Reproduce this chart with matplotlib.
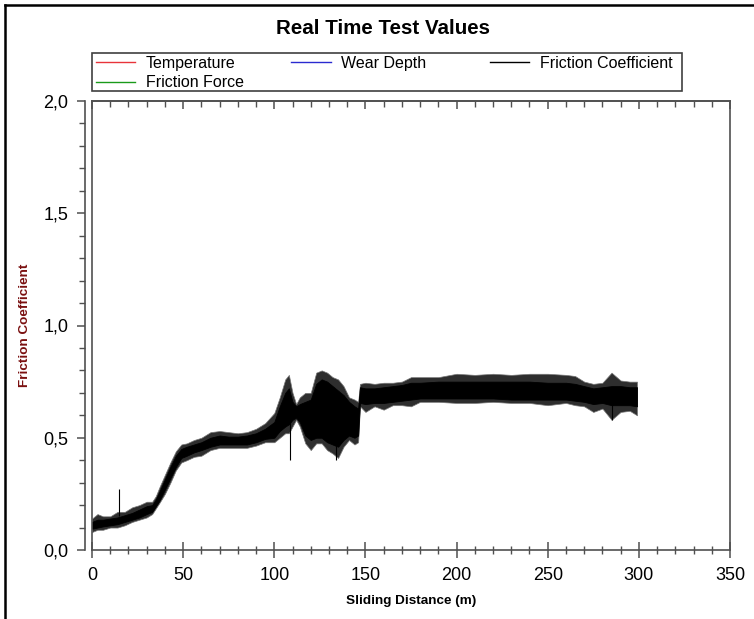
import matplotlib
matplotlib.use('Agg')
from matplotlib import pyplot as plt
from matplotlib.lines import Line2D
from matplotlib.patches import Rectangle
from matplotlib.ticker import MultipleLocator, FuncFormatter
import numpy as np

plt.rcParams['font.family'] = ['Liberation Sans', 'DejaVu Sans']

# sliding distance (m) and read-off envelope of the friction coefficient band
dist = [0, 3, 6, 10, 14, 18, 22, 26, 30, 33, 35, 37, 40, 43, 46, 49, 52, 56, 60, 65,
        70, 75, 80, 85, 90, 95, 100, 103, 106, 108, 110, 112, 114, 117, 120, 123, 126,
        129, 132, 135, 138, 141, 144, 146, 147, 150, 155, 160, 165, 170, 175, 180, 190,
        200, 210, 220, 230, 240, 250, 260, 265, 270, 275, 280, 285, 290, 295, 299]
# outer spikes
cof_lo = [0.08, 0.09, 0.09, 0.10, 0.10, 0.11, 0.125, 0.135, 0.145, 0.16, 0.185, 0.21,
          0.25, 0.30, 0.355, 0.39, 0.40, 0.415, 0.42, 0.445, 0.455, 0.455, 0.455, 0.455,
          0.465, 0.48, 0.48, 0.50, 0.52, 0.52, 0.55, 0.58, 0.55, 0.475, 0.445, 0.475,
          0.475, 0.445, 0.43, 0.41, 0.46, 0.49, 0.47, 0.48, 0.64, 0.615, 0.64, 0.625,
          0.645, 0.645, 0.64, 0.66, 0.66, 0.655, 0.655, 0.66, 0.655, 0.655, 0.645, 0.655,
          0.645, 0.64, 0.615, 0.63, 0.58, 0.615, 0.62, 0.60]
cof_hi = [0.14, 0.16, 0.15, 0.15, 0.17, 0.17, 0.19, 0.20, 0.215, 0.215, 0.24, 0.28,
          0.335, 0.39, 0.44, 0.47, 0.475, 0.49, 0.50, 0.525, 0.53, 0.525, 0.52, 0.525,
          0.54, 0.565, 0.61, 0.68, 0.76, 0.78, 0.70, 0.65, 0.68, 0.70, 0.70, 0.79, 0.80,
          0.79, 0.77, 0.76, 0.73, 0.68, 0.67, 0.66, 0.74, 0.745, 0.74, 0.745, 0.745, 0.75,
          0.77, 0.77, 0.77, 0.785, 0.78, 0.785, 0.78, 0.785, 0.785, 0.78, 0.775, 0.75,
          0.74, 0.745, 0.79, 0.755, 0.75, 0.75]
# dense core
core_lo = [0.095, 0.10, 0.105, 0.11, 0.115, 0.125, 0.135, 0.145, 0.16, 0.17, 0.195, 0.22,
           0.27, 0.32, 0.37, 0.41, 0.42, 0.435, 0.445, 0.46, 0.47, 0.47, 0.47, 0.47, 0.48,
           0.495, 0.50, 0.53, 0.55, 0.56, 0.58, 0.59, 0.57, 0.51, 0.49, 0.50, 0.50, 0.48,
           0.47, 0.46, 0.49, 0.51, 0.50, 0.51, 0.655, 0.65, 0.655, 0.655, 0.66, 0.665,
           0.67, 0.675, 0.675, 0.675, 0.675, 0.675, 0.67, 0.67, 0.67, 0.67, 0.665, 0.66,
           0.65, 0.655, 0.645, 0.645, 0.645, 0.64]
core_hi = [0.125, 0.135, 0.135, 0.14, 0.145, 0.155, 0.165, 0.18, 0.195, 0.20, 0.225, 0.26,
           0.315, 0.37, 0.42, 0.45, 0.46, 0.47, 0.48, 0.50, 0.51, 0.505, 0.505, 0.51, 0.52,
           0.54, 0.57, 0.64, 0.70, 0.72, 0.66, 0.64, 0.65, 0.66, 0.67, 0.74, 0.76, 0.75,
           0.73, 0.71, 0.69, 0.66, 0.64, 0.63, 0.725, 0.72, 0.72, 0.725, 0.73, 0.735,
           0.745, 0.745, 0.75, 0.75, 0.75, 0.75, 0.75, 0.75, 0.745, 0.745, 0.74, 0.73,
           0.72, 0.725, 0.73, 0.73, 0.725, 0.725]
# single isolated spikes
spike_d = [15, 108.5, 134, 285]
spike_lo = [0.15, 0.40, 0.40, 0.58]
spike_hi = [0.27, 0.62, 0.60, 0.70]

legend_names = ['Temperature', 'Friction Force', 'Wear Depth', 'Friction Coefficient']
legend_colors = ['#e8333a', '#1a9a1a', '#2a2ad0', '#000000']

fig = plt.figure(figsize=(7.54, 6.19), dpi=100)
ax = fig.add_axes([92/754, 1-550/619, (730-92)/754, (550-101)/619])

ax.fill_between(dist, cof_lo, cof_hi, color='#2e2e2e', linewidth=0.5, edgecolor='#777777')
ax.fill_between(dist, core_lo, core_hi, color='black', linewidth=0.6)
ax.vlines(spike_d, spike_lo, spike_hi, color='black', linewidth=0.8)

ax.set_xlim(0, 350)
ax.set_ylim(0, 2.0)
ax.xaxis.set_major_locator(MultipleLocator(50))
ax.xaxis.set_minor_locator(MultipleLocator(10))
ax.yaxis.set_major_locator(MultipleLocator(0.5))
ax.yaxis.set_minor_locator(MultipleLocator(0.1))
ax.yaxis.set_major_formatter(FuncFormatter(lambda v, p: ('%.1f' % v).replace('.', ',')))

spine_c = '#505050'
for s in ax.spines.values():
    s.set_color(spine_c)
    s.set_linewidth(1.2)
ax.spines['left'].set_position(('outward', 5))
# inner frame line on the left side
ax.add_line(Line2D([0, 0], [0, 1], transform=ax.transAxes, color=spine_c,
                   linewidth=1.2, clip_on=False))

ax.tick_params(axis='x', which='major', direction='inout', length=12, width=1.1,
               color=spine_c, labelsize=13, pad=6)
ax.tick_params(axis='x', which='minor', direction='inout', length=6, width=1.0, color=spine_c)
ax.tick_params(axis='y', which='major', direction='out', length=6, width=1.1,
               color=spine_c, labelsize=13, pad=6)
ax.tick_params(axis='y', which='minor', direction='out', length=4, width=1.0, color=spine_c)

top = ax.secondary_xaxis('top')
top.xaxis.set_major_locator(MultipleLocator(50))
top.xaxis.set_minor_locator(MultipleLocator(10))
top.tick_params(which='major', direction='in', length=6, width=1.1, color=spine_c, labeltop=False)
top.tick_params(which='minor', direction='in', length=4, width=1.0, color=spine_c)
top.spines['top'].set_color(spine_c)
top.spines['top'].set_linewidth(1.2)

ax.set_xlabel('Sliding Distance (m)', fontsize=9.7, fontweight='bold', labelpad=8)
fig.text(25/754, 1-325/619, 'Friction Coefficient', rotation=90, fontsize=9.7,
         fontweight='bold', color='#7a1010', ha='center', va='center')

fig.text(383/754, 1-28/619, 'Real Time Test Values', fontsize=14.8, fontweight='bold',
         ha='center', va='center')

# legend: first two columns, then the third column placed on its own
handles = [Line2D([], [], color=c, linewidth=1.0) for c in legend_colors]
leg_kw = dict(borderaxespad=0, borderpad=0, frameon=False, fontsize=11.5,
              handlelength=2.45, handletextpad=0.65, labelspacing=0.27)
leg1 = fig.legend(handles[:3], legend_names[:3], ncol=2, loc='upper left',
                  bbox_to_anchor=(96/754, 1-56/619), columnspacing=3.0, **leg_kw)
leg2 = fig.legend(handles[3:], legend_names[3:], ncol=1, loc='upper left',
                  bbox_to_anchor=(490/754, 1-56/619), **leg_kw)
fig.add_artist(Rectangle((92/754, 1-91/619), (682-92)/754, (91-53)/619,
                         transform=fig.transFigure, fill=False,
                         edgecolor='#404040', linewidth=1.2))

# outer border of the window
fig.add_artist(Line2D([5/754, 5/754], [0, 1-5/619], color='black', linewidth=1.8))
fig.add_artist(Line2D([5/754, 1], [1-5/619, 1-5/619], color='black', linewidth=1.8))

plt.savefig('out.png', dpi=100)
